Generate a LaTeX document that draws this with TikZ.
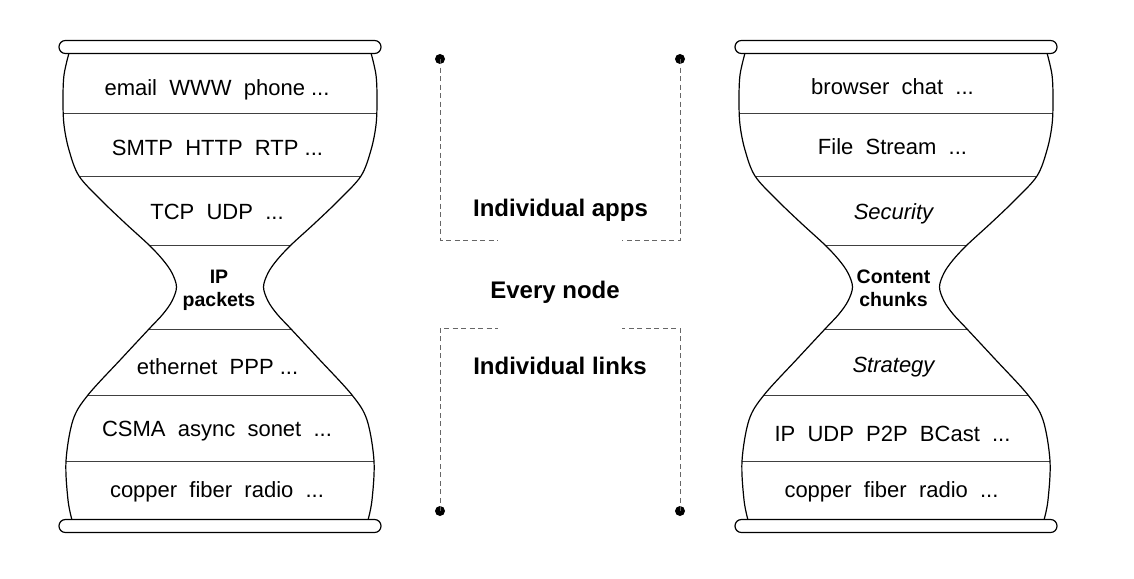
\documentclass[tikz,border=0pt]{standalone}
\usepackage{fontspec}
\setmainfont{Liberation Sans}
\newcommand\hgcurve{plot[smooth,tension=0.55] coordinates {(-151,53) (-156,75) (-157,100) (-156,125) (-151,150) (-141,176) (-119,200) (-95,223) (-71,245) (-57,260) (-48,273) (-43.5,287) (-48,301) (-57,314) (-71,329) (-98,358) (-132,395) (-147,420) (-154,461) (-152,500) (-148,520)}}
\newcommand\hourglass{%
  \begin{scope}
    \clip \hgcurve -- (200,520) -- (200,53) -- cycle;
    \begin{scope}[xscale=-1]
      \clip \hgcurve -- (200,520) -- (200,53) -- cycle;
      \foreach \yy in {113,176,245,329,395,461} \draw[sepline] (-200,\yy) -- (200,\yy);
    \end{scope}
  \end{scope}
  \draw[outline] \hgcurve;
  \begin{scope}[xscale=-1]\draw[outline] \hgcurve;\end{scope}
  \draw[barshape] (-161,40.5) rectangle (161,53.5);
  \draw[barshape] (-161,519.5) rectangle (161,532.5);
}
\begin{document}
\begin{tikzpicture}[x=1pt,y=-1pt,
  outline/.style={line width=1.2pt,black},
  sepline/.style={line width=1pt,black!75},
  barshape/.style={line width=1.2pt,fill=white,rounded corners=6.4pt},
  lbl/.style={font=\fontsize{22}{26}\selectfont,inner sep=0pt,anchor=base},
  lblit/.style={lbl,font=\fontsize{22}{26}\selectfont\itshape},
  necklbl/.style={font=\fontsize{19.5}{23}\selectfont\bfseries,inner sep=0pt,anchor=base},
  midlbl/.style={font=\fontsize{24}{28}\selectfont\bfseries,inner sep=0pt,anchor=base},
  dashline/.style={line width=1pt,black!60,dash pattern=on 5pt off 3.5pt},
  dotmark/.style={circle,fill=black,inner sep=0pt,minimum size=10pt}]
\useasboundingbox (0,0) rectangle (1134,578);

% left hourglass
\begin{scope}[shift={(220,0)}]
  \hourglass
\end{scope}
% right hourglass
\begin{scope}[shift={(896,0)}]
  \hourglass
\end{scope}

% left texts
\node[lbl] (l1) at (217,95) {email\ \ WWW\ \ phone ...};
\node[lbl] (l2) at (217.5,155.5) {SMTP\ \ HTTP\ \ RTP ...};
\node[lbl] (l3) at (217,219) {TCP\ \ UDP\ \ ...};
\node[necklbl] (l4a) at (219,283) {IP};
\node[necklbl] (l4b) at (219,306) {packets};
\node[lbl] (l5) at (217.5,374) {ethernet\ \ PPP ...};
\node[lbl] (l6) at (217,436) {CSMA\ \ async\ \ sonet\ \ ...};
\node[lbl] (l7) at (217,497) {copper\ \ fiber\ \ radio\ \ ...};

% right texts
\node[lbl] (r1) at (892.5,94) {browser\ \ chat\ \ ...};
\node[lbl] (r2) at (892.5,154) {File\ \ Stream\ \ ...};
\node[lblit] (r3) at (893.5,219.5) {Security};
\node[necklbl] (r4a) at (893.5,283) {Content};
\node[necklbl] (r4b) at (893.5,306) {chunks};
\node[lblit] (r5) at (893.5,372.3) {Strategy};
\node[lbl] (r6) at (892.5,441) {IP\ \ UDP\ \ P2P\ \ BCast\ \ ...};
\node[lbl] (r7) at (891.5,497) {copper\ \ fiber\ \ radio\ \ ...};

% middle texts
\node[midlbl] (apps) at (560.5,216.7) {Individual apps};
\node[midlbl] (every) at (555,298) {Every node};
\node[midlbl] (links) at (560,374) {Individual links};

% dots and dashed brackets
\node[dotmark] (d1) at (440,59) {};
\node[dotmark] (d2) at (680,59) {};
\node[dotmark] (d3) at (440,511) {};
\node[dotmark] (d4) at (680,511) {};
\coordinate (e1) at (498,240);
\coordinate (e2) at (622,240);
\coordinate (e3) at (498,328);
\coordinate (e4) at (622,328);
\draw[dashline] (d1.center) |- (e1);
\draw[dashline] (d2.center) |- (e2);
\draw[dashline] (d3.center) |- (e3);
\draw[dashline] (d4.center) |- (e4);
\end{tikzpicture}
\end{document}
